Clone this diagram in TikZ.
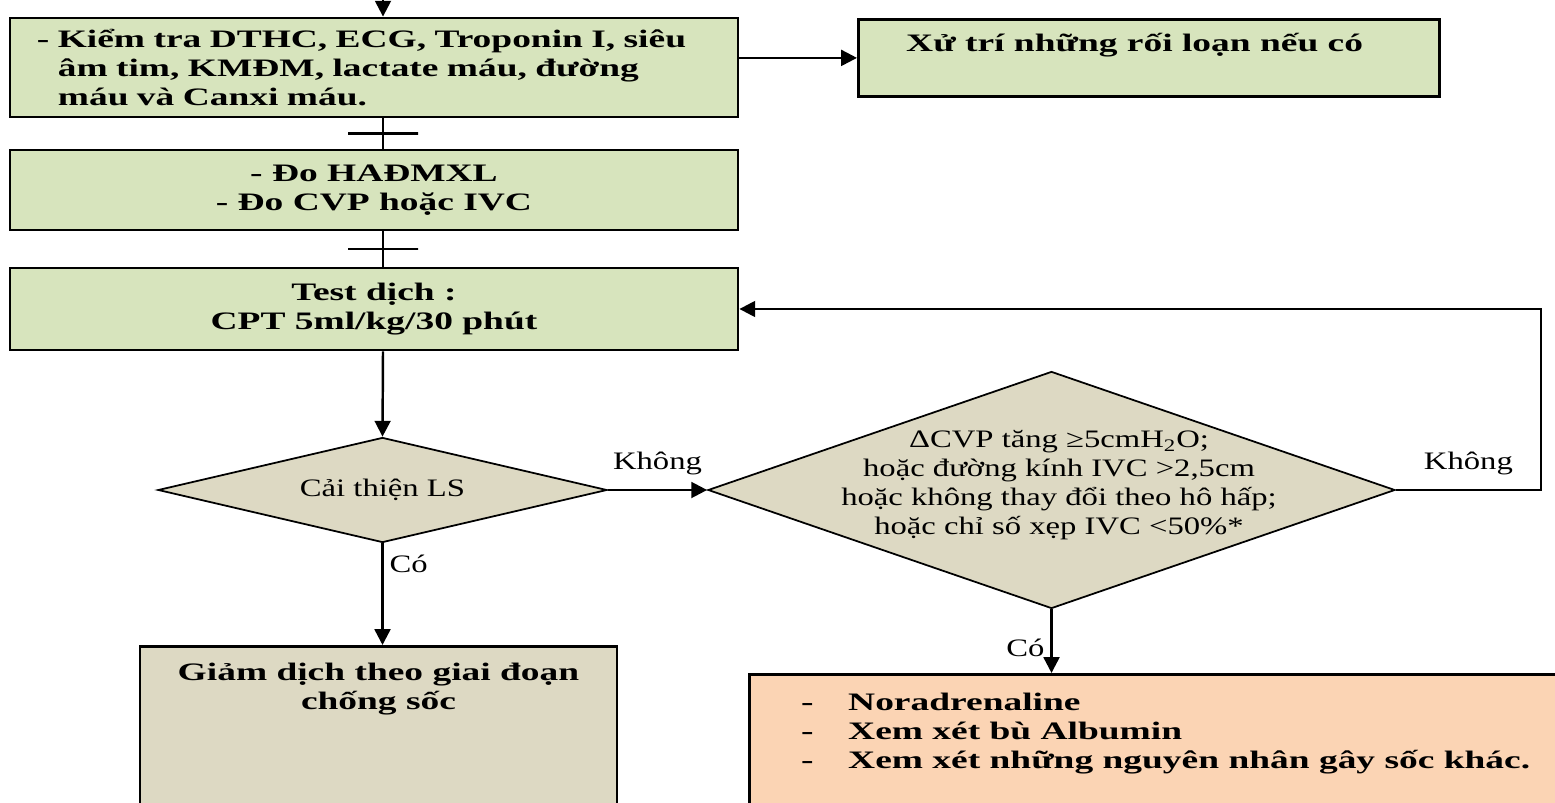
\documentclass[tikz,border=0pt]{standalone}
\usepackage{fontspec}
\setmainfont{Liberation Serif}[FakeStretch=1.3,BoldFeatures={FakeStretch=1.49}]
\usetikzlibrary{arrows.meta,positioning,shapes.geometric}
\definecolor{lgreen}{HTML}{D7E4BD}
\definecolor{ltan}{HTML}{DDD9C3}
\definecolor{lpeach}{HTML}{FBD4B4}
\tikzset{>/.tip={Triangle[length=9pt,width=9pt]}}
\tikzset{box/.style={draw,line width=1.6pt,inner sep=0pt}}
\tikzset{dec/.style={diamond,draw,line width=1pt,fill=ltan,inner sep=0pt}}
\tikzset{tick/.style={draw,line width=1.3pt,minimum width=1.4cm,minimum height=0pt,inner sep=0pt}}
\tikzset{txt/.style={inner sep=0pt,font=\sz\bfseries}}
\def\sz{\fontsize{14.3}{16.5}\selectfont}

\begin{document}
\begin{tikzpicture}[node distance=2.4cm,on grid,font=\sz,line width=1.4pt]
        \useasboundingbox (0,0) rectangle (31.1,-16.06);
        \node(chk)[box,fill=lgreen,minimum width=14.56cm,minimum height=1.98cm,text width=13.48cm,align=left,font=\sz\bfseries] at (7.48,-1.35)
        {- Kiểm tra DTHC, ECG, Troponin I, siêu\\\phantom{- }âm tim, KMĐM, lactate máu, đường\\\phantom{- }máu và Canxi máu.};
        \node(meas)[box,fill=lgreen,minimum width=14.56cm,minimum height=1.6cm,align=center,font=\sz\bfseries,below=2.45cm of chk]
        {- Đo HAĐMXL\\- Đo CVP hoặc IVC};
        \node(tst)[box,fill=lgreen,minimum width=14.56cm,minimum height=1.64cm,align=center,font=\sz\bfseries,below=2.38cm of meas]
        {Test dịch :\\CPT 5ml/kg/30 phút};
        \node(imp)[dec,aspect=4,minimum width=8.98cm,minimum height=2.1cm] at (7.65,-9.8) {Cải thiện LS};
        \node(red)[box,fill=ltan,minimum width=9.54cm,minimum height=4cm,anchor=north] at (7.57,-12.9) {};
        \node(redtxt)[txt,align=center,below=0.34cm of red.north] {Giảm dịch theo giai đoạn\\chống sốc};
        \node(crit)[dec,minimum width=13.74cm,minimum height=4.74cm] at (21.03,-9.8) {};
        \node(crittxt)[align=center,inner sep=0pt,xshift=0.15cm,yshift=0.1cm] at (crit)
        {ΔCVP tăng ≥5cmH\textsubscript{2}O;\\hoặc đường kính IVC >2,5cm\\hoặc không thay đổi theo hô hấp;\\hoặc chỉ số xẹp IVC <50\%*};
        \node(xu)[box,fill=lgreen,minimum width=11.62cm,minimum height=1.54cm,anchor=north west] at (17.14,-0.36) {};
        \node(xutxt)[txt,anchor=west,xshift=0.96cm,yshift=-0.54cm] at (xu.north west) {Xử trí những rối loạn nếu có};
        \node(vas)[box,fill=lpeach,minimum width=17.04cm,minimum height=3.54cm,anchor=north west] at (14.96,-13.46) {};
        \node(vastxt)[txt,align=left,anchor=north west,xshift=1.04cm,yshift=-0.37cm] at (vas.north west)
        {\makebox[0.94cm][l]{-}Noradrenaline\\\makebox[0.94cm][l]{-}Xem xét bù Albumin\\\makebox[0.94cm][l]{-}Xem xét những nguyên nhân gây sốc khác.};
        \coordinate(top) at (7.66,0.5);
        \draw[->] (top) -- (top |- chk.north);
        \draw (top |- chk.south) -- node[tick]{} (top |- meas.north);
        \draw (top |- meas.south) -- node[tick]{} (top |- tst.north);
        \draw[->] (top |- tst.south) -- (imp.north);
        \draw[->] (chk.east |- xu.west) -- (xu.west);
        \draw[->] (imp.east) -- node[above=0.15cm]{Không} (crit.west);
        \draw[->] (imp.south) -- node[right,pos=0.2]{Có} (imp.south |- red.north);
        \draw[->] (crit.south) -- node[left,pos=0.6]{Có} (crit.south |- vas.north);
        \draw[->] (crit.east) -- node[above=0.15cm]{Không} ++(2.9,0) |- (tst.east);
      \end{tikzpicture}
\end{document}
